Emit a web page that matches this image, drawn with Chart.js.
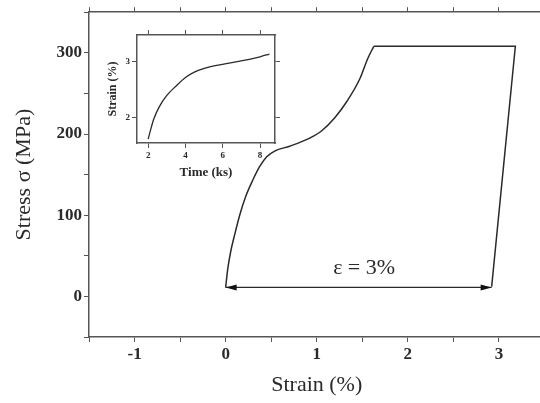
<!DOCTYPE html>
<html>
<head>
<meta charset="utf-8">
<script src="https://cdn.jsdelivr.net/npm/chart.js@4.4.0/dist/chart.umd.min.js"></script>
<style>
  html, body { margin: 0; padding: 0; background: #fff; overflow: hidden; width: 540px; height: 403px; }
  #main { position: absolute; left: 0; top: 0; }
  #inset { position: absolute; left: 95px; top: 25px; }
</style>
</head>
<body>
<canvas id="main" width="560" height="403"></canvas>
<canvas id="inset" width="190" height="165"></canvas>
<script>
// main curve: loading branch
var loadStrain = [0, 0.022, 0.055, 0.099, 0.154, 0.22, 0.297, 0.374, 0.451, 0.538, 0.703, 0.923, 1.055, 1.198, 1.33, 1.473, 1.56, 1.626];
var loadStress = [11, 33, 55, 76, 100, 123, 143, 160, 172, 179, 185, 195, 204, 220, 240, 268, 293, 308];
// plateau + unloading
var unloadStrain = [1.626, 3.18, 2.92];
var unloadStress = [308, 308, 12];
// double arrow (eps = 3%)
var arrowStrain = [0, 2.92];
var arrowStress = [11, 11];
var arrowLabel = "ε = 3%";
var arrowLabelPos = [1.52, 35];

var xTicks = [-1.5, -1, -0.5, 0, 0.5, 1, 1.5, 2, 2.5, 3, 3.5];
var xTickLabels = [-1, 0, 1, 2, 3];
var yTicks = [-50, 0, 50, 100, 150, 200, 250, 300, 350];
var yTickLabels = [0, 100, 200, 300];

// inset: strain vs time
var insetTime = [2.0, 2.1, 2.3, 2.6, 3.0, 3.5, 4.0, 4.5, 5.3, 6.7, 8.0, 8.5];
var insetStrain = [1.62, 1.75, 1.98, 2.2, 2.4, 2.57, 2.72, 2.82, 2.91, 3.0, 3.09, 3.14];
var insetTimeTicks = [2, 4, 6, 8];
var insetStrainTicks = [2, 3];

var serif = "'Liberation Serif', 'DejaVu Serif', serif";
var ink = '#2a2a2a';
var frame = '#555';

function pts(xs, ys) {
  return xs.map(function (x, i) { return { x: x, y: ys[i] }; });
}

function fixed(size, vertical) {
  return function (scale) {
    if (vertical) scale.width = size; else scale.height = size;
  };
}

function setTicks(values) {
  return function (scale) {
    scale.ticks = values.map(function (v) { return { value: v }; });
  };
}

function axis(pos, min, max, values, labels, size, font, extra) {
  var vertical = (pos === 'left' || pos === 'right');
  var o = {
    type: 'linear',
    position: pos,
    min: min,
    max: max,
    afterBuildTicks: setTicks(values),
    afterFit: fixed(size, vertical),
    border: { display: true, color: frame, width: 1.5 },
    grid: { drawOnChartArea: false, drawTicks: true, tickLength: 5, color: frame, lineWidth: 1 },
    ticks: {
      display: !!labels,
      padding: 2,
      color: ink,
      font: font,
      callback: function (v) {
        if (!labels) return '';
        return labels.indexOf(v) >= 0 ? String(v) : '';
      }
    }
  };
  return Object.assign(o, extra || {});
}

// draws arrowheads + text label
var arrowPlugin = {
  id: 'arrowPlugin',
  afterDatasetsDraw: function (chart) {
    var xs = chart.scales.x, ys = chart.scales.y, ctx = chart.ctx;
    var y = ys.getPixelForValue(arrowStress[0]);
    var x0 = xs.getPixelForValue(arrowStrain[0]);
    var x1 = xs.getPixelForValue(arrowStrain[1]);
    ctx.save();
    ctx.fillStyle = '#111';
    ctx.beginPath();
    ctx.moveTo(x0, y); ctx.lineTo(x0 + 11, y - 3); ctx.lineTo(x0 + 11, y + 3); ctx.closePath();
    ctx.moveTo(x1, y); ctx.lineTo(x1 - 11, y - 3); ctx.lineTo(x1 - 11, y + 3); ctx.closePath();
    ctx.fill();
    ctx.font = '22px ' + serif;
    ctx.fillStyle = ink;
    ctx.textAlign = 'center';
    ctx.textBaseline = 'middle';
    ctx.fillText(arrowLabel, xs.getPixelForValue(arrowLabelPos[0]), ys.getPixelForValue(arrowLabelPos[1]));
    ctx.restore();
  }
};

var tickFont = { family: serif, size: 17, weight: 'bold' };

new Chart(document.getElementById('main').getContext('2d'), {
  type: 'scatter',
  data: {
    datasets: [
      { data: pts(loadStrain, loadStress), showLine: true, borderColor: ink, borderWidth: 1.5, pointRadius: 0, cubicInterpolationMode: 'monotone' },
      { data: pts(unloadStrain, unloadStress), showLine: true, borderColor: ink, borderWidth: 1.5, pointRadius: 0, tension: 0 },
      { data: pts(arrowStrain, arrowStress), showLine: true, borderColor: ink, borderWidth: 1.2, pointRadius: 0, tension: 0 }
    ]
  },
  options: {
    responsive: false,
    animation: false,
    layout: { padding: 0 },
    plugins: { legend: { display: false }, tooltip: { enabled: false } },
    scales: {
      x: axis('bottom', -1.5, 3.5, xTicks, xTickLabels, 66, tickFont, {
        title: { display: true, text: 'Strain (%)', color: ink, font: { family: serif, size: 22 }, padding: { top: 0, bottom: 5 } }
      }),
      x2: axis('top', -1.5, 3.5, xTicks, null, 11, tickFont),
      y: axis('left', -50, 350, yTicks, yTickLabels, 89, tickFont, {
        title: { display: true, text: 'Stress σ (MPa)', color: ink, font: { family: serif, size: 22 }, padding: { top: 11, bottom: 0 } }
      }),
      y2: axis('right', -50, 350, yTicks, null, 15.5, tickFont)
    }
  },
  plugins: [arrowPlugin]
});

var insetFont = { family: serif, size: 9, weight: 'bold' };

new Chart(document.getElementById('inset').getContext('2d'), {
  type: 'scatter',
  data: {
    datasets: [
      { data: pts(insetTime, insetStrain), showLine: true, borderColor: ink, borderWidth: 1.3, pointRadius: 0, cubicInterpolationMode: 'monotone' }
    ]
  },
  options: {
    responsive: false,
    animation: false,
    layout: { padding: 0 },
    plugins: { legend: { display: false }, tooltip: { enabled: false } },
    scales: {
      x: axis('bottom', 1.4, 8.8, insetTimeTicks, insetTimeTicks, 47, insetFont, {
        title: { display: true, text: 'Time (ks)', color: ink, font: { family: serif, size: 13, weight: 'bold' }, padding: { top: 0, bottom: 10 } }
      }),
      x2: axis('top', 1.4, 8.8, insetTimeTicks, null, 10, insetFont),
      y: axis('left', 1.55, 3.48, insetStrainTicks, insetStrainTicks, 42, insetFont, {
        title: { display: true, text: 'Strain (%)', color: ink, font: { family: serif, size: 12, weight: 'bold' }, padding: { top: 11, bottom: 0 } }
      }),
      y2: axis('right', 1.55, 3.48, insetStrainTicks, null, 10, insetFont)
    }
  }
});
</script>
</body>
</html>
